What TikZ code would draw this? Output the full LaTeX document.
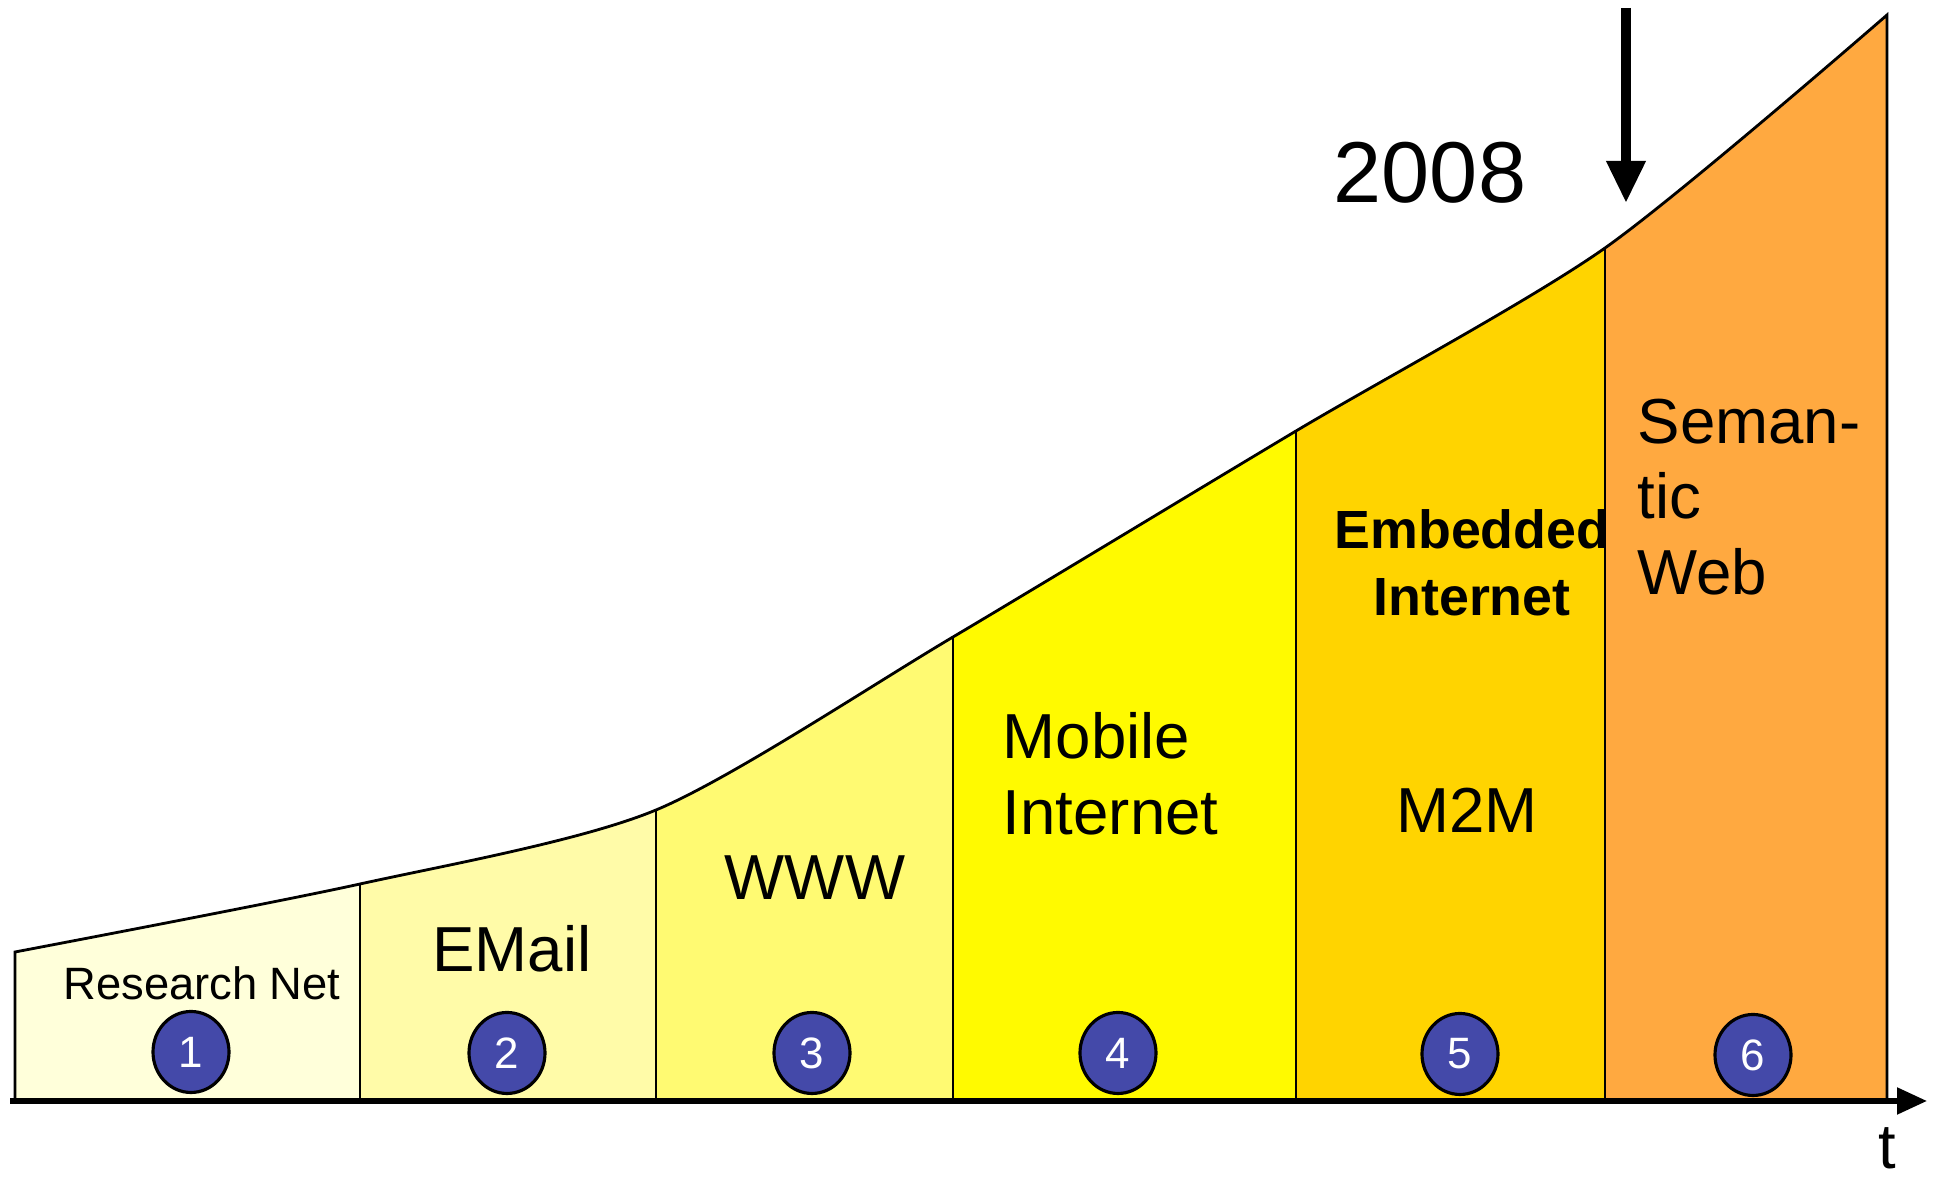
\documentclass[tikz,border=0pt]{standalone}
\usepackage{fontspec}
\setmainfont{Liberation Sans}
\usepackage{xcolor}
\usepackage{tikz}
\usetikzlibrary{shapes,calc,arrows.meta}
\definecolor{phaseone}{HTML}{FFFFDA}
\definecolor{phasetwo}{HTML}{FFFBA8}
\definecolor{phasethree}{HTML}{FFFA72}
\definecolor{phasefour}{HTML}{FFFA00}
\definecolor{phasefive}{HTML}{FFD400}
\definecolor{phasesix}{HTML}{FFA940}
\definecolor{numblue}{HTML}{4449A9}
\tikzset{
stepnum/.style={ellipse,draw=black,line width=0.9pt,fill=numblue,text=white,
minimum width=0.76cm,minimum height=0.81cm,inner sep=0pt,
font=\fontsize{12.5}{14}\selectfont},
phasename/.style={inner sep=0pt,font=\fontsize{18.1}{21.5}\selectfont},
border/.style={draw=black,line width=0.8pt}
}

\begin{document}
\begin{tikzpicture}
		\useasboundingbox (0,0) rectangle (19.33,11.78);

		% curve points and base points
		\coordinate (p0) at (0.15,2.26);
		\coordinate (p1) at (3.60,2.94);
		\coordinate (p2) at (6.56,3.68);
		\coordinate (p3) at (9.53,5.41);
		\coordinate (p4) at (12.96,7.47);
		\coordinate (p5) at (16.05,9.30);
		\coordinate (p6) at (18.87,11.63);
		\coordinate (b0) at (0.15,0.78);
		\coordinate (b1) at (3.60,0.78);
		\coordinate (b2) at (6.56,0.78);
		\coordinate (b3) at (9.53,0.78);
		\coordinate (b4) at (12.96,0.78);
		\coordinate (b5) at (16.05,0.78);
		\coordinate (b6) at (18.87,0.78);

		\begin{scope}
		\clip (b0) -- plot[smooth,tension=0.45] coordinates {(p0) (p1) (p2) (p3) (p4) (p5) (p6)} -- (b6) -- cycle;
		\fill[phaseone] (b0) rectangle (3.60,12);
		\fill[phasetwo] (b1) rectangle (6.56,12);
		\fill[phasethree] (b2) rectangle (9.53,12);
		\fill[phasefour] (b3) rectangle (12.96,12);
		\fill[phasefive] (b4) rectangle (16.05,12);
		\node[align=center,inner sep=0pt,font=\fontsize{15.3}{19}\selectfont\bfseries] (embedded) at (14.72,6.15) {Embedded\\Internet};
		\fill[phasesix] (b5) rectangle (18.87,12);
		\end{scope}

		\draw[border] (b0) -- plot[smooth,tension=0.45] coordinates {(p0) (p1) (p2) (p3) (p4) (p5) (p6)} -- (b6);
		\draw[border] (b1) -- (p1);
		\draw[border] (b2) -- (p2);
		\draw[border] (b3) -- (p3);
		\draw[border] (b4) -- (p4);
		\draw[border] (b5) -- (p5);

		\node[phasename,font=\fontsize{12.9}{15}\selectfont] (research) at (2.02,1.95) {Research Net};
		\node[phasename] (email) at (5.12,2.29) {EMail};
		\node[phasename] (www) at (8.15,3.00) {WWW};
		\node[phasename,align=left,anchor=west] (mobile) at (10.02,4.04) {Mobile\\Internet};
		\node[phasename] (mtwom) at (14.67,3.68) {M2M};
		\node[phasename,align=left,anchor=west] (semantic) at (16.37,6.81) {Seman-\\tic\\Web};

		\node[stepnum] (n1) at (1.91,1.26) {1};
		\node[stepnum] (n2) at (5.07,1.25) {2};
		\node[stepnum] (n3) at (8.12,1.25) {3};
		\node[stepnum] (n4) at (11.18,1.25) {4};
		\node[stepnum] (n5) at (14.60,1.24) {5};
		\node[stepnum] (n6) at (17.53,1.23) {6};

		% time axis
		\coordinate (axstart) at (0.10,0.77);
		\coordinate (axend) at (19.27,0.77);
		\draw[line width=1.5pt,-{Triangle[width=0.26cm,length=0.3cm]}] (axstart) -- (axend);
		\node[inner sep=0pt,anchor=base,font=\fontsize{18}{20}\selectfont] (t) at (18.87,0.09) {t};

		% now marker
		\node[inner sep=0pt,font=\fontsize{24.6}{27}\selectfont] (year) at (14.30,10.05) {2008};
		\coordinate (mtop) at (16.26,11.70);
		\coordinate (mtip) at (16.26,9.75);
		\draw[line width=2.8pt,-{Triangle[width=0.37cm,length=0.42cm]}] (mtop) -- (mtip);

	\end{tikzpicture}
\end{document}
